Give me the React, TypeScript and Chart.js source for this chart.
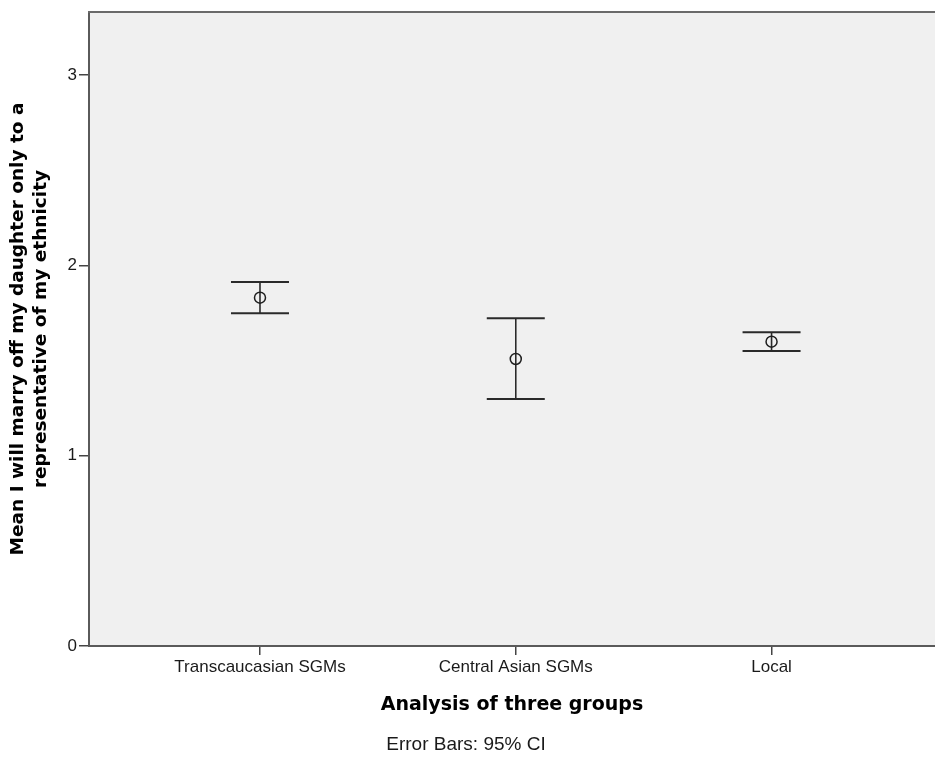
import React, { useEffect, useRef } from "react";
import { Chart, registerables } from "chart.js";

Chart.register(...registerables);

const categories = ["Transcaucasian SGMs", "Central Asian SGMs", "Local"];
const means = [1.83, 1.508, 1.599];
const ciLower = [1.748, 1.298, 1.55];
const ciUpper = [1.912, 1.722, 1.648];
const yTicks = [0, 1, 2, 3];
const yTitle = ["Mean I will marry off my daughter only to a", "representative of my ethnicity"];
const xTitle = "Analysis of three groups";
const footnote = "Error Bars: 95% CI";

const SANS = "'Liberation Sans', Arial, sans-serif";
const BOLD = "'DejaVu Sans', Verdana, sans-serif";

const framePlugin = {
  id: "frame",
  beforeDraw(chart: any) {
    const { ctx, chartArea: a } = chart;
    ctx.save();
    ctx.fillStyle = "#f0f0f0";
    ctx.fillRect(a.left, a.top, a.right - a.left, a.bottom - a.top);
    ctx.restore();
  },
  afterDraw(chart: any) {
    const { ctx, chartArea: a } = chart;
    ctx.save();
    ctx.strokeStyle = "#6a6a6a";
    ctx.lineWidth = 2;
    ctx.beginPath();
    ctx.moveTo(a.left - 1, a.top);
    ctx.lineTo(a.right, a.top);
    ctx.stroke();
    ctx.fillStyle = "#1a1a1a";
    ctx.font = `19px ${SANS}`;
    ctx.textAlign = "center";
    ctx.textBaseline = "middle";
    ctx.fillText(footnote, 466, 745);
    ctx.restore();
  },
};

const errorBarPlugin = {
  id: "errorBars",
  beforeDatasetsDraw(chart: any) {
    const { ctx } = chart;
    const xs = chart.scales.x;
    const ys = chart.scales.y;
    const cap = 29;
    ctx.save();
    ctx.strokeStyle = "#2a2a2a";
    categories.forEach((_, i) => {
      const px = xs.getPixelForValue(i);
      const lo = ys.getPixelForValue(ciLower[i]);
      const hi = ys.getPixelForValue(ciUpper[i]);
      ctx.lineWidth = 1.6;
      ctx.beginPath();
      ctx.moveTo(px, lo);
      ctx.lineTo(px, hi);
      ctx.stroke();
      ctx.lineWidth = 2;
      ctx.beginPath();
      ctx.moveTo(px - cap, hi);
      ctx.lineTo(px + cap, hi);
      ctx.moveTo(px - cap, lo);
      ctx.lineTo(px + cap, lo);
      ctx.stroke();
    });
    ctx.restore();
  },
};

export default function App() {
  const ref = useRef<HTMLCanvasElement | null>(null);
  useEffect(() => {
    if (!ref.current) return;
    const chart = new Chart(ref.current, {
      type: "scatter",
      data: {
        datasets: [
          {
            data: means.map((m, i) => ({ x: i, y: m })),
            pointRadius: 5.5,
            pointHoverRadius: 5.5,
            pointBorderWidth: 1.5,
            pointBorderColor: "#1e1e1e",
            pointBackgroundColor: "rgba(0,0,0,0)",
            showLine: false,
          },
        ],
      },
      options: {
        responsive: false,
        animation: false,
        layout: { autoPadding: false, padding: { top: 12, left: 0, right: 0, bottom: 0 } },
        plugins: { legend: { display: false }, tooltip: { enabled: false } },
        scales: {
          x: {
            type: "linear",
            min: -0.6685,
            max: 2.639,
            afterBuildTicks: (s: any) => {
              s.ticks = categories.map((_, i) => ({ value: i }));
            },
            afterFit: (s: any) => {
              s.height = 114;
              s.paddingLeft = 0;
              s.paddingRight = 0;
            },
            grid: { drawOnChartArea: false, drawTicks: true, tickLength: 9, color: "#444", lineWidth: 1.5 },
            border: { display: true, color: "#5a5a5a", width: 2 },
            ticks: {
              callback: (v: any) => categories[v] ?? "",
              font: { family: SANS, size: 17 },
              color: "#1a1a1a",
              padding: 2,
              maxRotation: 0,
              autoSkip: false,
            },
            title: {
              display: true,
              text: xTitle,
              color: "#000",
              font: { family: BOLD, weight: "bold", size: 19, lineHeight: 1.2 },
              padding: { top: 0, bottom: 43.6 },
            },
          },
          y: {
            type: "linear",
            min: 0,
            max: 3.331,
            afterBuildTicks: (s: any) => {
              s.ticks = yTicks.map((v) => ({ value: v }));
            },
            afterFit: (s: any) => {
              s.width = 89;
              s.paddingTop = 0;
              s.paddingBottom = 0;
            },
            grid: { drawOnChartArea: false, drawTicks: true, tickLength: 10, color: "#444", lineWidth: 1.5 },
            border: { display: true, color: "#5a5a5a", width: 2 },
            ticks: {
              callback: (v: any) => String(v),
              font: { family: SANS, size: 17 },
              color: "#1a1a1a",
              padding: 2,
            },
            title: {
              display: true,
              text: yTitle,
              color: "#000",
              font: { family: BOLD, weight: "bold", size: 18.5, lineHeight: 1.25 },
              padding: { top: 6.5, bottom: 0 },
            },
          },
        },
      },
      plugins: [framePlugin, errorBarPlugin],
    } as any);
    return () => chart.destroy();
  }, []);
  return (
    <div style={{ position: "absolute", left: 0, top: 0, width: 935, height: 760 }}>
      <canvas ref={ref} width={935} height={760} style={{ display: "block" }} />
    </div>
  );
}
